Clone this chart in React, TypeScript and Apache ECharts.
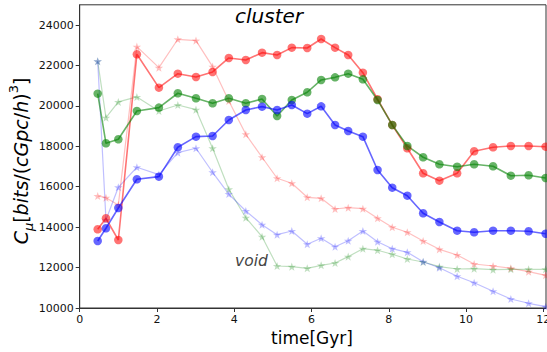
import React, { useEffect, useRef } from "react";
import * as echarts from "echarts";

const times = [0.466, 0.68, 1.0, 1.48, 2.05, 2.54, 3.01, 3.44, 3.86, 4.3, 4.72, 5.11, 5.49, 5.89, 6.25, 6.61, 6.95, 7.33, 7.71, 8.09, 8.48, 8.89, 9.31, 9.77, 10.21, 10.7, 11.16, 11.62, 12.06];

const redCluster = [13894, 14438, 13365, 22553, 20901, 21593, 21430, 21677, 22370, 22271, 22632, 22518, 22880, 22865, 23310, 22880, 22518, 21643, 20327, 19055, 17902, 16665, 16300, 16665, 17754, 17952, 18016, 18016, 17981];
const greenCluster = [20604, 18149, 18347, 19748, 19913, 20624, 20376, 20129, 20376, 20129, 20341, 19500, 20292, 20673, 21282, 21411, 21593, 21314, 20292, 19055, 18016, 17457, 17111, 16990, 17111, 17012, 16546, 16566, 16433];
const blueCluster = [13315, 13944, 14948, 16368, 16498, 17952, 18476, 18511, 19302, 19797, 19962, 19797, 20044, 19615, 19978, 19055, 18758, 18476, 16828, 15953, 15557, 14686, 14255, 13825, 13746, 13825, 13825, 13795, 13676];

const redVoid = [15542, 15458, 15100, 22929, 21890, 23294, 23228, 21940, 20242, 18594, 17457, 16418, 16170, 15477, 15428, 14899, 14963, 14914, 14438, 13993, 13746, 13315, 12902, 12622, 12177, 12078, 11964, 11796, 11617];
const greenVoid = [22207, 19416, 20195, 20441, 19748, 20044, 19812, 17902, 15873, 14468, 13528, 12078, 12045, 11964, 12111, 12227, 12540, 12934, 12855, 12657, 12425, 12276, 12045, 11930, 11946, 11895, 11915, 11915, 11915];
const blueVoid = [22207, 14350, 15972, 16962, 16600, 17684, 17902, 16715, 15636, 14800, 14122, 13627, 13810, 13151, 13449, 13033, 13330, 13810, 13281, 12934, 12756, 12291, 11994, 11568, 11252, 10826, 10445, 10233, 10064];

const xTicks = [0, 2, 4, 6, 8, 10, 12];
const yTicks = [10000, 12000, 14000, 16000, 18000, 20000, 22000, 24000];

const STAR = "path://M0,-10 L2.35,-3.24 L9.51,-3.09 L3.8,1.24 L5.88,8.09 L0,4 L-5.88,8.09 L-3.8,1.24 L-9.51,-3.09 L-2.35,-3.24 Z";
const FONT = "DejaVu Sans";

function pairs(ys: number[]) {
  return times.map((t, i) => [t, ys[i]]);
}

function circleSeries(ys: number[], rgb: string, a: number) {
  return {
    type: "line",
    data: pairs(ys),
    symbol: "circle",
    symbolSize: 8.5,
    clip: false,
    lineStyle: { color: `rgba(${rgb},${a})`, width: 1.6 },
    itemStyle: { color: `rgba(${rgb},${a})`, borderWidth: 0 },
    emphasis: { disabled: true },
  };
}

function starSeries(ys: number[], rgb: string, a: number) {
  return {
    type: "line",
    data: pairs(ys),
    symbol: STAR,
    symbolSize: 8.5,
    symbolKeepAspect: true,
    clip: false,
    lineStyle: { color: `rgba(${rgb},${a})`, width: 1.2 },
    itemStyle: { color: `rgba(${rgb},${a})`, borderWidth: 0 },
    emphasis: { disabled: true },
  };
}

export default function App() {
  const ref = useRef<HTMLDivElement>(null);
  useEffect(() => {
    if (!ref.current) return;
    const chart = echarts.init(ref.current, null, { renderer: "svg" });
    chart.setOption({
      animation: false,
      backgroundColor: "#fff",
      grid: {
        left: 79.7,
        right: 1,
        top: 4.8,
        bottom: 44,
        containLabel: false,
        outerBoundsMode: "none",
        show: true,
        borderColor: "#333",
        borderWidth: 1,
        backgroundColor: "transparent",
      },
      xAxis: {
        type: "value",
        min: 0,
        max: 12.07,
        interval: 2,
        splitLine: { show: false },
        axisLine: { show: true, onZero: false, lineStyle: { color: "#333", width: 1 } },
        axisTick: { show: true, length: 4, customValues: xTicks, lineStyle: { color: "#333" } },
        axisLabel: {
          customValues: xTicks,
          color: "#111",
          fontSize: 11,
          fontFamily: FONT,
          margin: 6,
          hideOverlap: false,
          formatter: (v: number) => (Math.abs(v - Math.round(v)) < 1e-6 && Math.round(v) % 2 === 0 ? String(Math.round(v)) : ""),
        },
      },
      yAxis: {
        type: "value",
        min: 10000,
        max: 25000,
        interval: 2000,
        splitLine: { show: false },
        axisLine: { show: true, onZero: false, lineStyle: { color: "#333", width: 1 } },
        axisTick: { show: true, length: 4, customValues: yTicks, lineStyle: { color: "#333" } },
        axisLabel: {
          customValues: yTicks,
          color: "#111",
          fontSize: 11,
          fontFamily: FONT,
          margin: 6,
          formatter: (v: number) => (v % 2000 === 0 ? String(v) : ""),
        },
      },
      graphic: [
        {
          type: "text",
          left: 235,
          top: 6,
          style: { text: "cluster", fontFamily: FONT, fontStyle: "italic", fontSize: 20, fill: "#000" },
        },
        {
          type: "text",
          left: 235,
          top: 253,
          style: { text: "void", fontFamily: FONT, fontStyle: "italic", fontSize: 15.5, fill: "#444" },
        },
        {
          type: "text",
          x: 312,
          y: 338,
          style: { text: "time[Gyr]", fontFamily: FONT, fontSize: 17, fill: "#000", align: "center", verticalAlign: "middle" },
        },
        {
          type: "text",
          x: 21,
          y: 161,
          rotation: Math.PI / 2,
          style: {
            text: "{i|C}{sub|μ}{n|[}{i|bits}{n|/(}{i|cGpc}{n|/}{i|h}{n|)}{sup|3}{n|]}",
            align: "center",
            verticalAlign: "middle",
            fill: "#000",
            rich: {
              i: { fontFamily: FONT, fontStyle: "italic", fontSize: 19, lineHeight: 28, verticalAlign: "middle" },
              n: { fontFamily: FONT, fontSize: 19, lineHeight: 28, verticalAlign: "middle" },
              sub: { fontFamily: FONT, fontStyle: "italic", fontSize: 13, lineHeight: 28, verticalAlign: "bottom" },
              sup: { fontFamily: FONT, fontSize: 13, lineHeight: 28, verticalAlign: "top" },
            },
          },
        },
      ],
      series: [
        starSeries(redVoid, "255,0,0", 0.25),
        starSeries(greenVoid, "0,128,0", 0.25),
        starSeries(blueVoid, "0,0,255", 0.25),
        circleSeries(redCluster, "255,0,0", 0.55),
        circleSeries(greenCluster, "0,128,0", 0.6),
        circleSeries(blueCluster, "0,0,255", 0.6),
      ],
    });
    return () => chart.dispose();
  }, []);
  return <div ref={ref} style={{ position: "fixed", left: 0, top: 0, width: 547, height: 352 }} />;
}
